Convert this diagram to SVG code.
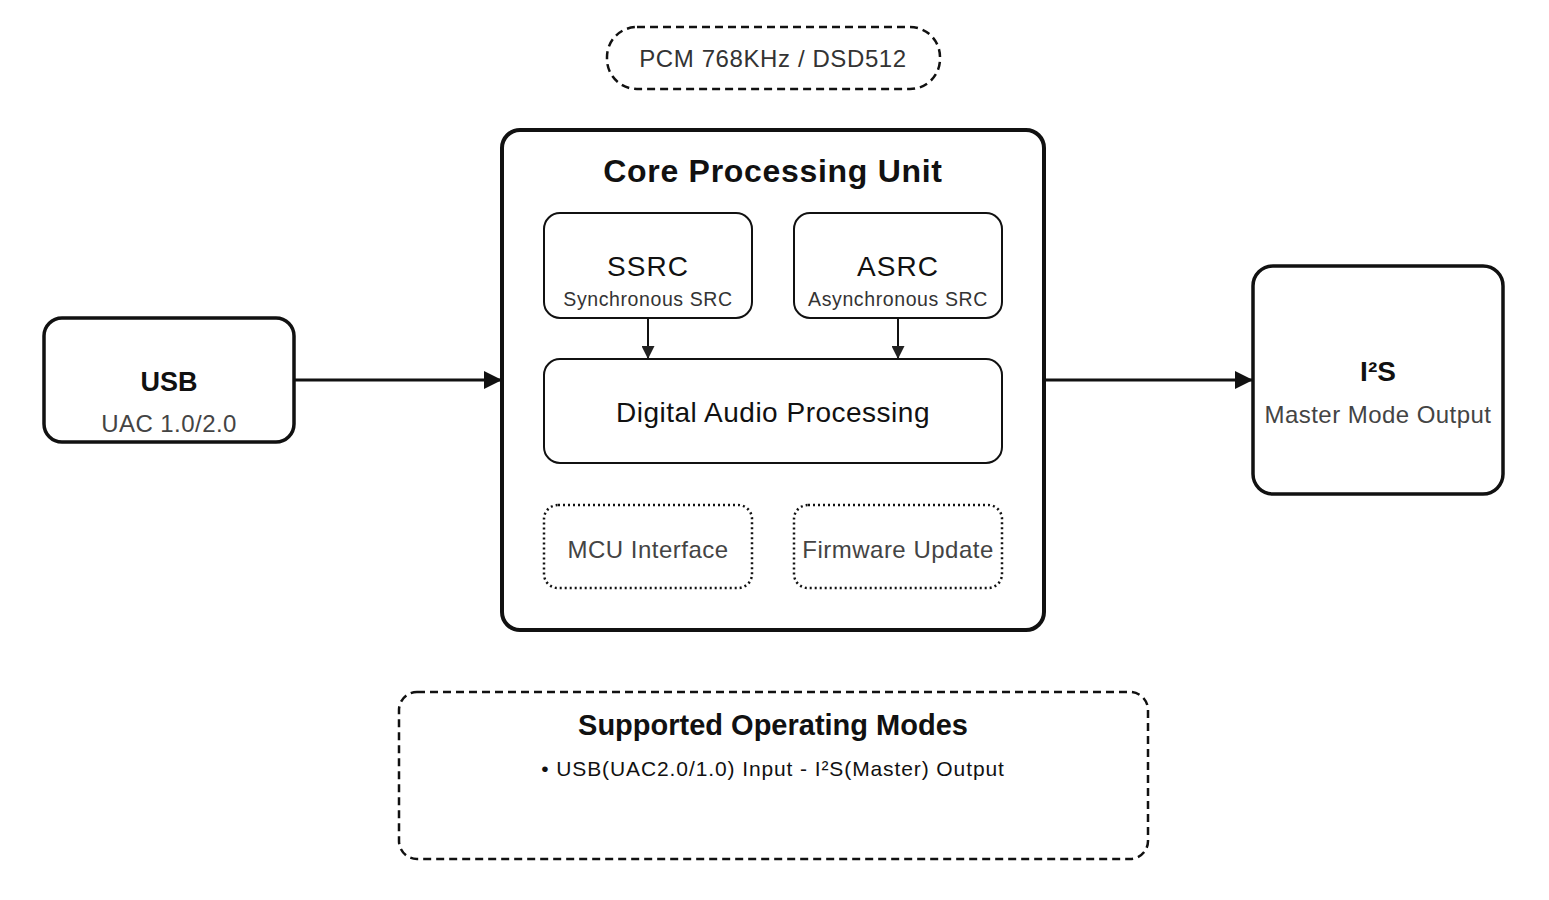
<svg xmlns="http://www.w3.org/2000/svg" width="1549" height="900" viewBox="0 0 1549 900">
<style>
text{font-family:"Liberation Sans",Arial,sans-serif;text-anchor:middle;}
.box{fill:#fff;stroke:#111;}
.t{fill:#111;}
.s{fill:#333;}
.b{font-weight:bold;fill:#111;}
.conn{stroke:#111;fill:none;}
</style>
<defs>
<marker id="ahL" viewBox="0 0 10 10" refX="10" refY="5" markerWidth="18" markerHeight="18" markerUnits="userSpaceOnUse" orient="auto">
<path d="M0,0 L10,5 L0,10 z" fill="#111"/>
</marker>
<marker id="ahS" viewBox="0 0 10 10" refX="10" refY="5" markerWidth="13" markerHeight="13" markerUnits="userSpaceOnUse" orient="auto">
<path d="M0,0 L10,5 L0,10 z" fill="#222"/>
</marker>
</defs>
<rect width="1549" height="900" fill="#fff"/>

<g id="pcm-label">
<rect x="607" y="27" width="333" height="62" rx="30" class="box" stroke-width="2.5" stroke="#333" stroke-dasharray="8,5"/>
<text x="773" y="67" font-size="24" letter-spacing="0.6" class="s">PCM 768KHz / DSD512</text>
</g>

<g id="core">
<rect x="502" y="130" width="542" height="500" rx="18" class="box" stroke-width="4"/>
<text x="773" y="182" font-size="32" letter-spacing="0.7" class="b">Core Processing Unit</text>
</g>

<g id="ssrc">
<rect x="544" y="213" width="208" height="105" rx="16" class="box" stroke-width="2" stroke="#222"/>
<text x="648" y="276" font-size="28" letter-spacing="1" class="t">SSRC</text>
<text x="648" y="306" font-size="19.5" letter-spacing="0.6" class="s">Synchronous SRC</text>
</g>

<g id="asrc">
<rect x="794" y="213" width="208" height="105" rx="16" class="box" stroke-width="2" stroke="#222"/>
<text x="898" y="276" font-size="28" letter-spacing="1" class="t">ASRC</text>
<text x="898" y="306" font-size="19.5" letter-spacing="0.6" class="s">Asynchronous SRC</text>
</g>

<g id="dap">
<rect x="544" y="359" width="458" height="104" rx="16" class="box" stroke-width="2" stroke="#222"/>
<text x="773" y="422" font-size="28" letter-spacing="0.5" class="t">Digital Audio Processing</text>
</g>

<g id="mcu">
<rect x="544" y="505" width="208" height="83" rx="14" class="box" stroke-width="2.5" stroke="#222" stroke-dasharray="2,3"/>
<text x="648" y="558" font-size="24" letter-spacing="0.5" fill="#444">MCU Interface</text>
</g>

<g id="firmware">
<rect x="794" y="505" width="208" height="83" rx="14" class="box" stroke-width="2.5" stroke="#222" stroke-dasharray="2,3"/>
<text x="898" y="558" font-size="24" letter-spacing="0.5" fill="#444">Firmware Update</text>
</g>

<g id="usb">
<rect x="44" y="318" width="250" height="124" rx="18" class="box" stroke-width="3.5"/>
<text x="169" y="391" font-size="27" class="b">USB</text>
<text x="169" y="432" font-size="24" letter-spacing="0.45" fill="#444">UAC 1.0/2.0</text>
</g>

<g id="i2s">
<rect x="1253" y="266" width="250" height="228" rx="20" class="box" stroke-width="3.5"/>
<text x="1378" y="381" font-size="28" class="b">I²S</text>
<text x="1378" y="423" font-size="24" letter-spacing="0.45" fill="#444">Master Mode Output</text>
</g>

<g id="modes">
<rect x="399" y="692" width="749" height="167" rx="18" class="box" stroke-width="2.5" stroke="#333" stroke-dasharray="8,5"/>
<text x="773" y="735" font-size="29" class="b">Supported Operating Modes</text>
<text x="773" y="776" font-size="21" letter-spacing="0.9" class="t">• USB(UAC2.0/1.0) Input - I²S(Master) Output</text>
</g>

<g id="connectors">
<line x1="294" y1="380" x2="502" y2="380" class="conn" stroke-width="3" marker-end="url(#ahL)"/>
<line x1="1044" y1="380" x2="1253" y2="380" class="conn" stroke-width="3" marker-end="url(#ahL)"/>
<line x1="648" y1="318" x2="648" y2="359" class="conn" stroke="#222" stroke-width="2" marker-end="url(#ahS)"/>
<line x1="898" y1="318" x2="898" y2="359" class="conn" stroke="#222" stroke-width="2" marker-end="url(#ahS)"/>
</g>
</svg>
